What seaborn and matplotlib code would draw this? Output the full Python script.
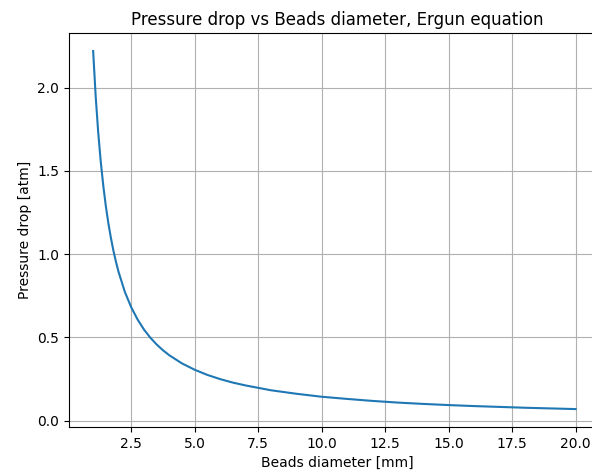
import matplotlib
matplotlib.use("Agg")
import matplotlib.pyplot as plt
import seaborn as sns
import pandas as pd

diameter_mm = [1.0, 1.1, 1.2, 1.3, 1.4, 1.5, 1.6, 1.7, 1.8, 1.9, 2.0, 2.25, 2.5, 2.75, 3.0,
               3.25, 3.5, 3.75, 4.0, 4.5, 5.0, 5.5, 6.0, 6.5, 7.0, 8.0, 9.0, 10.0, 11.0,
               12.0, 13.0, 14.0, 15.0, 16.0, 17.0, 18.0, 19.0, 20.0]
pressure_atm = [2.22, 1.947, 1.730, 1.554, 1.410, 1.288, 1.185, 1.097, 1.020, 0.953, 0.894,
                0.773, 0.681, 0.608, 0.548, 0.499, 0.458, 0.423, 0.393, 0.344, 0.306, 0.275,
                0.250, 0.229, 0.212, 0.183, 0.162, 0.144, 0.131, 0.119, 0.109, 0.101, 0.094,
                0.088, 0.083, 0.078, 0.074, 0.070]

df = pd.DataFrame({"d": diameter_mm, "p": pressure_atm})

fig = plt.figure(figsize=(5.92, 4.74), dpi=100)
ax = fig.add_axes([0.1166, 0.0992, 0.905, 0.831])
sns.lineplot(data=df, x="d", y="p", ax=ax, color="#1f77b4", linewidth=1.5)
ax.set_xlim(0.05, 21.15)
ax.grid(True, color="#b0b0b0", linewidth=0.8)
ax.set_axisbelow(True)
ax.set_title("Pressure drop vs Beads diameter, Ergun equation")
ax.set_xlabel("Beads diameter [mm]")
ax.set_ylabel("Pressure drop [atm]")
ax.set_xticks([2.5, 5.0, 7.5, 10.0, 12.5, 15.0, 17.5, 20.0])
ax.set_yticks([0.0, 0.5, 1.0, 1.5, 2.0])
fig.savefig("out.png", dpi=100)
